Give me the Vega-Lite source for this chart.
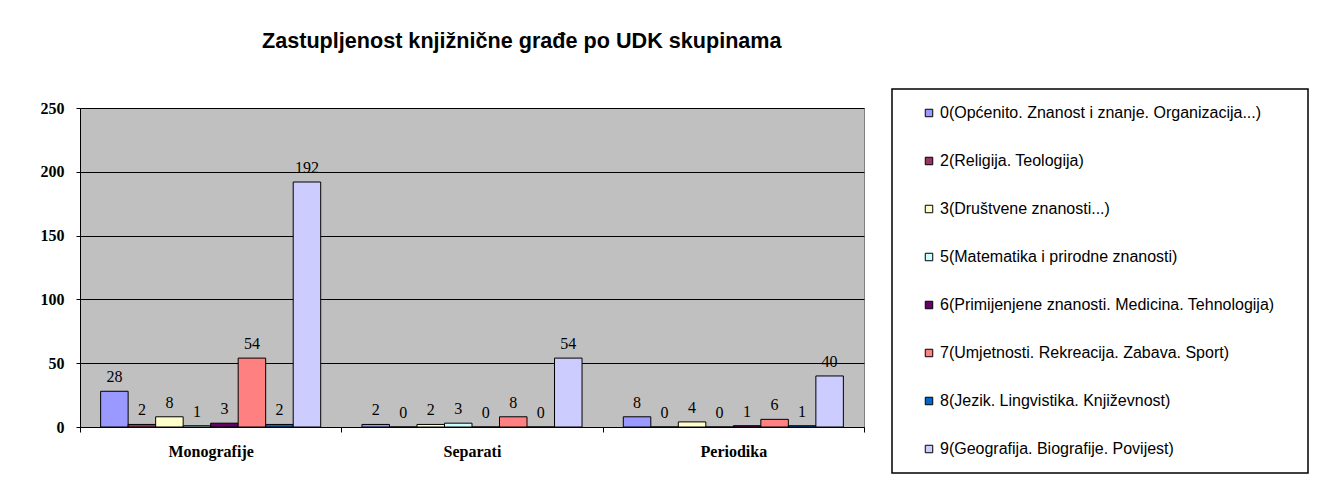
{
  "$schema": "https://vega.github.io/schema/vega-lite/v6.json",
  "width": 784,
  "height": 319,
  "autosize": {"type": "none"},
  "padding": {"left": 80, "top": 108, "right": 455, "bottom": 56},
  "background": "white",
  "title": {
    "text": "Zastupljenost knjižnične građe po UDK skupinama",
    "font": "Liberation Sans",
    "fontSize": 21.6,
    "fontWeight": "bold",
    "color": "black",
    "anchor": "start",
    "frame": "group",
    "dx": 182,
    "offset": 36
  },
  "data": {
    "values": [
      {"tip": "Monografije", "udk": "0(Općenito. Znanost i znanje. Organizacija...)", "n": 28},
      {"tip": "Monografije", "udk": "2(Religija. Teologija)", "n": 2},
      {"tip": "Monografije", "udk": "3(Društvene znanosti...)", "n": 8},
      {"tip": "Monografije", "udk": "5(Matematika i prirodne znanosti)", "n": 1},
      {"tip": "Monografije", "udk": "6(Primijenjene znanosti. Medicina. Tehnologija)", "n": 3},
      {"tip": "Monografije", "udk": "7(Umjetnosti. Rekreacija. Zabava. Sport)", "n": 54},
      {"tip": "Monografije", "udk": "8(Jezik. Lingvistika. Književnost)", "n": 2},
      {"tip": "Monografije", "udk": "9(Geografija. Biografije. Povijest)", "n": 192},
      {"tip": "Separati", "udk": "0(Općenito. Znanost i znanje. Organizacija...)", "n": 2},
      {"tip": "Separati", "udk": "2(Religija. Teologija)", "n": 0},
      {"tip": "Separati", "udk": "3(Društvene znanosti...)", "n": 2},
      {"tip": "Separati", "udk": "5(Matematika i prirodne znanosti)", "n": 3},
      {"tip": "Separati", "udk": "6(Primijenjene znanosti. Medicina. Tehnologija)", "n": 0},
      {"tip": "Separati", "udk": "7(Umjetnosti. Rekreacija. Zabava. Sport)", "n": 8},
      {"tip": "Separati", "udk": "8(Jezik. Lingvistika. Književnost)", "n": 0},
      {"tip": "Separati", "udk": "9(Geografija. Biografije. Povijest)", "n": 54},
      {"tip": "Periodika", "udk": "0(Općenito. Znanost i znanje. Organizacija...)", "n": 8},
      {"tip": "Periodika", "udk": "2(Religija. Teologija)", "n": 0},
      {"tip": "Periodika", "udk": "3(Društvene znanosti...)", "n": 4},
      {"tip": "Periodika", "udk": "5(Matematika i prirodne znanosti)", "n": 0},
      {"tip": "Periodika", "udk": "6(Primijenjene znanosti. Medicina. Tehnologija)", "n": 1},
      {"tip": "Periodika", "udk": "7(Umjetnosti. Rekreacija. Zabava. Sport)", "n": 6},
      {"tip": "Periodika", "udk": "8(Jezik. Lingvistika. Književnost)", "n": 1},
      {"tip": "Periodika", "udk": "9(Geografija. Biografije. Povijest)", "n": 40}
    ]
  },
  "encoding": {
    "x": {
      "field": "tip",
      "type": "nominal",
      "sort": ["Monografije", "Separati", "Periodika"],
      "scale": {"paddingInner": 0, "paddingOuter": 0},
      "axis": {
        "title": null,
        "labelAngle": 0,
        "tickBand": "extent",
        "domainColor": "black",
        "tickColor": "black",
        "tickSize": 5,
        "labelFont": "Liberation Serif",
        "labelFontSize": 16,
        "labelFontWeight": "bold",
        "labelColor": "black",
        "labelPadding": 11
      }
    },
    "xOffset": {
      "field": "udk",
      "type": "nominal",
      "scale": {"paddingInner": 0, "paddingOuter": 0.75}
    },
    "y": {
      "field": "n",
      "type": "quantitative",
      "scale": {"domain": [0, 250], "nice": false},
      "axis": {
        "title": null,
        "values": [0, 50, 100, 150, 200, 250],
        "grid": true,
        "gridColor": "black",
        "gridOpacity": 1,
        "gridWidth": 1,
        "domainColor": "black",
        "tickColor": "black",
        "tickSize": 4,
        "labelFont": "Liberation Serif",
        "labelFontSize": 16,
        "labelFontWeight": "bold",
        "labelColor": "black",
        "labelPadding": 12
      }
    }
  },
  "layer": [
    {
      "mark": {"type": "bar", "stroke": "black", "strokeWidth": 1},
      "encoding": {
        "color": {
          "field": "udk",
          "type": "nominal",
          "scale": {
            "domain": [
              "0(Općenito. Znanost i znanje. Organizacija...)",
              "2(Religija. Teologija)",
              "3(Društvene znanosti...)",
              "5(Matematika i prirodne znanosti)",
              "6(Primijenjene znanosti. Medicina. Tehnologija)",
              "7(Umjetnosti. Rekreacija. Zabava. Sport)",
              "8(Jezik. Lingvistika. Književnost)",
              "9(Geografija. Biografije. Povijest)"
            ],
            "range": ["#9999FF", "#993366", "#FFFFCC", "#CCFFFF", "#660066", "#FF8080", "#0066CC", "#CCCCFF"]
          },
          "legend": {
            "title": "\u00a0",
            "titleOrient": "right",
            "titlePadding": 18,
            "titleFontSize": 6,
            "orient": "none",
            "legendX": 812,
            "legendY": -19,
            "strokeColor": "black",
            "fillColor": "white",
            "padding": 16,
            "symbolOffset": 13,
            "rowPadding": 32,
            "labelFont": "Liberation Sans",
            "labelFontSize": 16,
            "labelColor": "black",
            "labelLimit": 600,
            "labelOffset": 3,
            "symbolType": "square",
            "symbolSize": 56,
            "symbolStrokeColor": "black",
            "symbolStrokeWidth": 1
          }
        }
      }
    },
    {
      "mark": {
        "type": "text",
        "baseline": "bottom",
        "dy": -6,
        "font": "Liberation Serif",
        "fontSize": 16,
        "color": "black"
      },
      "encoding": {"text": {"field": "n", "type": "quantitative"}}
    }
  ],
  "config": {
    "view": {"fill": "#C0C0C0", "stroke": "#808080", "strokeWidth": 1},
    "legend": {"strokeWidth": 1.5}
  }
}
